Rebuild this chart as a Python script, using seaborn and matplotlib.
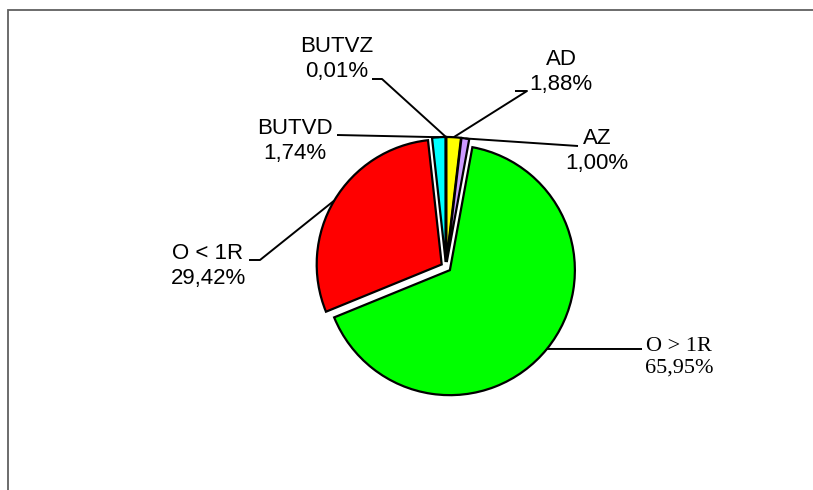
import numpy as np
import matplotlib
matplotlib.use("Agg")
import matplotlib.pyplot as plt
from matplotlib.patches import Rectangle
import seaborn as sns

# ---- data ----
categories = ["AD", "AZ", "O > 1R", "O < 1R", "BUTVD", "BUTVZ"]
values = [1.88, 1.00, 65.95, 29.42, 1.74, 0.01]
colors = ["#FFFF00", "#CC99FF", "#00FF00", "#FF0000", "#00FFFF", "#3366FF"]
pct_labels = [f"{v:.2f}".replace(".", ",") + "%" for v in values]

sns.set_theme(style="white")
plt.rcParams["font.family"] = ["Liberation Sans", "DejaVu Sans"]

W, H = 813, 490
fig = plt.figure(figsize=(W / 100, H / 100), dpi=100)
fig.patch.set_facecolor("white")

# pie centre & radius in pixels (layout)
CX, CY, R = 446, 267, 125
ax = fig.add_axes([0, 0, 1, 1])
ax.set_facecolor("white")

wedges, _ = ax.pie(values, colors=colors, startangle=90, counterclock=False,
                   explode=[0.04] * len(values), radius=1,
                   wedgeprops=dict(edgecolor="black", linewidth=1.6))
ax.set_xlim(-CX / R, (W - CX) / R)
ax.set_ylim(-(H - CY) / R, CY / R)
ax.set_aspect("equal", adjustable="box")
ax.axis("off")


def px(x, y):
    return (x - CX) / R, (CY - y) / R


# label layout: text pos (px), ha, elbow (px or None), line end (px), font
layout = {
    "AD": ((561, 72), "center", (527, 91), (515, 91), "Liberation Sans"),
    "AZ": ((597, 151), "center", None, (578, 146), "Liberation Sans"),
    "O > 1R": ((645, 357), "left", None, (642, 349), "Liberation Serif"),
    "O < 1R": ((208, 266), "center", (260, 260), (249, 260), "Liberation Sans"),
    "BUTVD": ((295, 141), "center", None, (337, 135), "Liberation Sans"),
    "BUTVZ": ((337, 59), "center", (382, 79), (372, 79), "Liberation Sans"),
}

for w, cat, pl in zip(wedges, categories, pct_labels):
    (tx, ty), ha, elbow, end, fam = layout[cat]
    mid = np.deg2rad((w.theta1 + w.theta2) / 2)
    sx = w.center[0] + w.r * np.cos(mid)
    sy = w.center[1] + w.r * np.sin(mid)
    pts = [(sx, sy)]
    if elbow is not None:
        pts.append(px(*elbow))
    pts.append(px(*end))
    xs, ys = zip(*pts)
    ax.plot(xs, ys, color="black", lw=1.4, solid_capstyle="butt", zorder=3)
    x, y = px(tx, ty)
    ax.text(x, y, f"{cat}\n{pl}", ha=ha, va="center", multialignment="center",
            fontsize=16, family=[fam, "DejaVu Sans"], color="black",
            linespacing=1.2, zorder=4)

# outer frame (cut off at right and bottom)
fig.add_artist(Rectangle((8 / W, -0.05), 1.2, 1.05 - 10.5 / H,
                         transform=fig.transFigure, fill=False,
                         edgecolor="#606060", linewidth=1.3))

fig.savefig("out.png", dpi=100, facecolor="white")
